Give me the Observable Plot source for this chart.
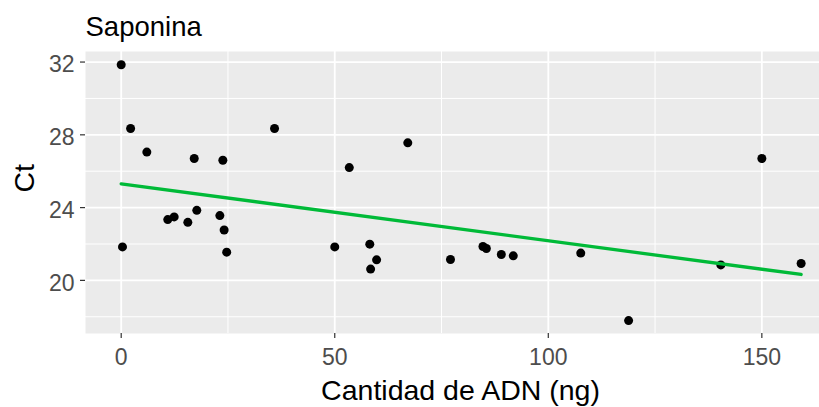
<!DOCTYPE html>
<html>
<head>
<meta charset="utf-8">
<script src="https://cdn.jsdelivr.net/npm/d3@7"></script>
<script src="https://cdn.jsdelivr.net/npm/@observablehq/plot@0.6"></script>
<style>
  html, body { margin: 0; padding: 0; background: #ffffff; }
  #chart svg { display: block; }
</style>
</head>
<body>
<div id="chart"></div>
<script>
// Cantidad de ADN (ng) vs Ct, saponin extraction
const adn = [0, 2.2, 6.0, 17.1, 23.8, 35.9, 53.4, 67.1, 150.0, 0.3,
             10.9, 12.4, 15.6, 17.7, 23.1, 24.1, 24.7, 50.0, 58.2, 58.4,
             59.8, 77.1, 84.7, 85.5, 89.0, 91.8, 107.6, 118.8, 140.4, 159.2];
const ct  = [31.85, 28.35, 27.05, 26.7, 26.6, 28.35, 26.2, 27.56, 26.7, 21.84,
             23.34, 23.49, 23.19, 23.85, 23.56, 22.77, 21.55, 21.84, 21.99, 20.62,
             21.13, 21.15, 21.86, 21.75, 21.42, 21.35, 21.5, 17.79, 20.85, 20.93];

const xTicks = [0, 50, 100, 150];
const xMinor = [25, 75, 125];
const yTicks = [20, 24, 28, 32];
const yMinor = [18, 22, 26, 30];

const titleText = "Saponina";
const xLabel = "Cantidad de ADN (ng)";
const yLabel = "Ct";

const data = adn.map((x, i) => ({x, y: ct[i]}));

const font = "'Liberation Sans', Arial, sans-serif";

const chart = Plot.plot({
  width: 819,
  height: 407,
  marginLeft: 85,
  marginRight: 0,
  marginTop: 51,
  marginBottom: 74,
  style: {fontFamily: font, background: "#ffffff"},
  x: {domain: [-8.36, 163.5]},
  y: {domain: [17.08, 32.58]},
  marks: [
    Plot.frame({fill: "#EBEBEB", stroke: null}),
    // grid
    Plot.ruleX(xMinor, {stroke: "#ffffff", strokeWidth: 1}),
    Plot.ruleY(yMinor, {stroke: "#ffffff", strokeWidth: 1}),
    Plot.ruleX(xTicks, {stroke: "#ffffff", strokeWidth: 1.8}),
    Plot.ruleY(yTicks, {stroke: "#ffffff", strokeWidth: 1.8}),
    // axes: ticks in dark grey, labels in mid grey
    Plot.axisX({ticks: xTicks, tickSize: 5, tickPadding: 10, label: null, fontSize: 23,
                stroke: "#333333", strokeWidth: 1.2, fill: "#4D4D4D"}),
    Plot.axisY({ticks: yTicks, tickSize: 5, label: null, stroke: "#333333", strokeWidth: 1.2, fill: "none"}),
    Plot.axisY({ticks: yTicks, tickSize: 0, tickPadding: 11, label: null, fontSize: 23,
                stroke: "none", fill: "#4D4D4D", dy: 3}),
    // points and fitted line
    Plot.dot(data, {x: "x", y: "y", r: 4.5, fill: "#000000", stroke: null}),
    Plot.linearRegressionY(data, {x: "x", y: "y", stroke: "#00BA38", strokeWidth: 3.3, ci: 0}),
    // titles
    Plot.text([titleText], {frameAnchor: "top-left", textAnchor: "start", lineAnchor: "middle",
                            dy: -24, fontSize: 27.5, fill: "#000000"}),
    Plot.text([xLabel], {frameAnchor: "bottom", lineAnchor: "middle", dx: 8, dy: 57, fontSize: 28.5, fill: "#000000"}),
    Plot.text([yLabel], {frameAnchor: "left", lineAnchor: "middle", rotate: -90, dx: -61, fontSize: 28.5, fill: "#000000"})
  ]
});

document.getElementById("chart").appendChild(chart);
</script>
</body>
</html>
